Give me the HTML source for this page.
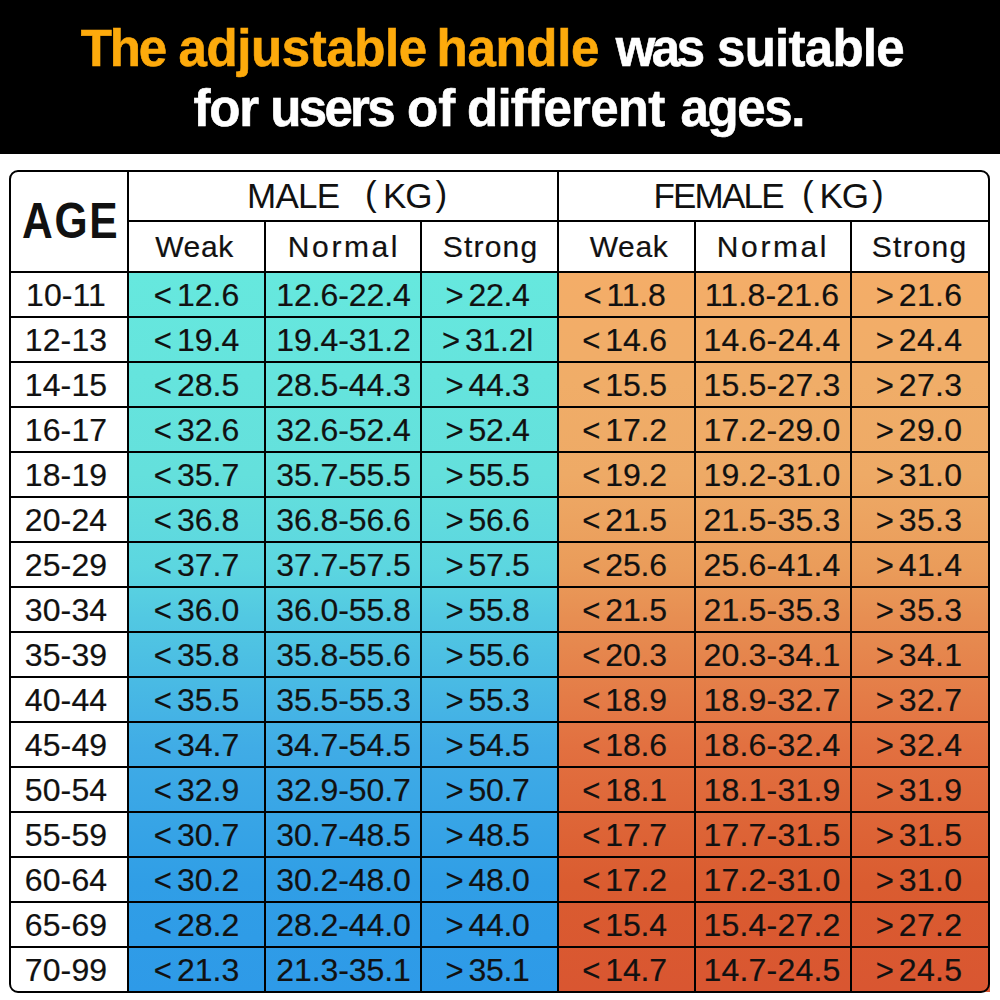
<!DOCTYPE html><html><head><meta charset="utf-8"><style>
*{margin:0;padding:0;box-sizing:border-box}
html,body{width:1000px;height:1000px;overflow:hidden;background:#fff}
body{position:relative;font-family:"Liberation Sans",sans-serif;color:#111}
.a{position:absolute}
.ln{position:absolute;background:#000}
.c{position:absolute;text-align:center;white-space:nowrap;-webkit-text-stroke:0.2px #111;font-size:32px;letter-spacing:0.1px;height:43px;line-height:43px}
.t{position:absolute;left:0;width:1000px;text-align:center;white-space:nowrap;font-weight:bold;color:#fff;font-size:51px;line-height:60px;height:60px}
.w{position:absolute;white-space:nowrap;font-weight:bold;color:#fff;-webkit-text-stroke:0.6px currentColor;font-size:51px;line-height:60px;height:60px}
.sp{display:inline-block;width:5px}
.lt{font-size:31px;letter-spacing:0;position:relative;top:0px}
</style></head><body>
<div class="a" style="left:0;top:0;width:1000px;height:154px;background:#000"></div>
<div class="w" style="left:80.7px;top:19px;letter-spacing:-2.15px;color:#fdaa0c">The</div>
<div class="w" style="left:178.6px;top:19px;letter-spacing:-0.4px;color:#fdaa0c">adjustable</div>
<div class="w" style="left:436.6px;top:19px;letter-spacing:-0.32px;color:#fdaa0c">handle</div>
<div class="w" style="left:615.8px;top:19px;letter-spacing:-3.6px;color:#fff">was</div>
<div class="w" style="left:717.0px;top:19px;letter-spacing:-0.729px;color:#fff">suitable</div>
<div class="w" style="left:193.4px;top:79px;letter-spacing:-1.1px">for</div>
<div class="w" style="left:270.2px;top:79px;letter-spacing:-2.65px">users</div>
<div class="w" style="left:407.0px;top:79px;letter-spacing:0.0px">of</div>
<div class="w" style="left:467.0px;top:79px;letter-spacing:-0.725px">different</div>
<div class="w" style="left:680.4px;top:79px;letter-spacing:-1.35px">ages.</div>
<div class="a" style="left:129px;top:273px;width:428px;height:719px;background:linear-gradient(to bottom,#66e8de 0%,#64e0dc 28%,#5cd6e0 41%,#52c8e2 48%,#40ace6 66%,#309ee6 85%,#2e9ae8 100%)"></div>
<div class="a" style="left:559px;top:273px;width:431px;height:719px;background:linear-gradient(to bottom,#f4ad68 0%,#f0ad68 15%,#eeaa66 28%,#ea9c5a 41%,#e78e52 48%,#e27040 66%,#da5c30 85%,#d95631 100%)"></div>
<div class="a" style="left:9px;top:170px;width:981px;height:823px;border:2px solid #000;border-radius:9px"></div>
<div class="ln" style="left:127px;top:170px;width:2px;height:823px"></div>
<div class="ln" style="left:557px;top:170px;width:2px;height:823px"></div>
<div class="ln" style="left:264px;top:220px;width:2px;height:773px"></div>
<div class="ln" style="left:420px;top:220px;width:2px;height:773px"></div>
<div class="ln" style="left:694px;top:220px;width:2px;height:773px"></div>
<div class="ln" style="left:850px;top:220px;width:2px;height:773px"></div>
<div class="ln" style="left:127px;top:220px;width:863px;height:2px"></div>
<div class="ln" style="left:9px;top:271px;width:981px;height:2px"></div>
<div class="ln" style="left:9px;top:316px;width:981px;height:2px"></div>
<div class="ln" style="left:9px;top:361px;width:981px;height:2px"></div>
<div class="ln" style="left:9px;top:406px;width:981px;height:2px"></div>
<div class="ln" style="left:9px;top:451px;width:981px;height:2px"></div>
<div class="ln" style="left:9px;top:496px;width:981px;height:2px"></div>
<div class="ln" style="left:9px;top:541px;width:981px;height:2px"></div>
<div class="ln" style="left:9px;top:586px;width:981px;height:2px"></div>
<div class="ln" style="left:9px;top:631px;width:981px;height:2px"></div>
<div class="ln" style="left:9px;top:676px;width:981px;height:2px"></div>
<div class="ln" style="left:9px;top:721px;width:981px;height:2px"></div>
<div class="ln" style="left:9px;top:766px;width:981px;height:2px"></div>
<div class="ln" style="left:9px;top:811px;width:981px;height:2px"></div>
<div class="ln" style="left:9px;top:856px;width:981px;height:2px"></div>
<div class="ln" style="left:9px;top:901px;width:981px;height:2px"></div>
<div class="ln" style="left:9px;top:946px;width:981px;height:2px"></div>
<div class="a" style="left:22px;top:196px;font-size:50px;font-weight:bold;line-height:1;letter-spacing:2px;transform:scaleX(0.852);transform-origin:0 0;color:#111">AGE</div>
<div class="a" style="left:247px;top:178px;font-size:35px;line-height:1;white-space:nowrap;letter-spacing:-0.7px">MALE</div>
<div class="a" style="left:365px;top:176px;font-size:35px;line-height:1;white-space:nowrap;letter-spacing:0px">(</div>
<div class="a" style="left:383px;top:178px;font-size:35px;line-height:1;white-space:nowrap;letter-spacing:-1px">KG</div>
<div class="a" style="left:435.5px;top:176px;font-size:35px;line-height:1;white-space:nowrap;letter-spacing:0px">)</div>
<div class="a" style="left:653.5px;top:178px;font-size:35px;line-height:1;white-space:nowrap;letter-spacing:-1.8px">FEMALE</div>
<div class="a" style="left:802px;top:176px;font-size:35px;line-height:1;white-space:nowrap;letter-spacing:0px">(</div>
<div class="a" style="left:819.5px;top:178px;font-size:35px;line-height:1;white-space:nowrap;letter-spacing:-1px">KG</div>
<div class="a" style="left:872px;top:176px;font-size:35px;line-height:1;white-space:nowrap;letter-spacing:0px">)</div>
<div class="c" style="left:127px;width:135px;top:225px;font-size:30px;letter-spacing:0.6px">Weak</div>
<div class="c" style="left:267px;width:154px;top:225px;font-size:30px;letter-spacing:2.6px">Normal</div>
<div class="c" style="left:423px;width:135px;top:225px;font-size:30px;letter-spacing:1.2px">Strong</div>
<div class="c" style="left:561.5px;width:135px;top:225px;font-size:30px;letter-spacing:0.6px">Weak</div>
<div class="c" style="left:696px;width:154px;top:225px;font-size:30px;letter-spacing:2.6px">Normal</div>
<div class="c" style="left:851.5px;width:136px;top:225px;font-size:30px;letter-spacing:1.2px">Strong</div>
<div class="c" style="left:8px;width:116px;top:273.5px">10-11</div>
<div class="c" style="left:129px;width:135px;top:273.5px;letter-spacing:0px"><span class="lt">&lt;</span><span class="sp"></span>12.6</div>
<div class="c" style="left:266.5px;width:154px;top:273.5px;letter-spacing:-0.1px">12.6-22.4</div>
<div class="c" style="left:420px;width:135px;top:273.5px;letter-spacing:-0.3px"><span class="lt">&gt;</span><span class="sp"></span>22.4</div>
<div class="c" style="left:557px;width:135px;top:273.5px;letter-spacing:-0.2px"><span class="lt">&lt;</span><span class="sp"></span>11.8</div>
<div class="c" style="left:695px;width:154px;top:273.5px;letter-spacing:0.2px">11.8-21.6</div>
<div class="c" style="left:851px;width:136px;top:273.5px;letter-spacing:0.3px"><span class="lt">&gt;</span><span class="sp"></span>21.6</div>
<div class="c" style="left:8px;width:116px;top:318.5px">12-13</div>
<div class="c" style="left:129px;width:135px;top:318.5px;letter-spacing:0px"><span class="lt">&lt;</span><span class="sp"></span>19.4</div>
<div class="c" style="left:266.5px;width:154px;top:318.5px;letter-spacing:-0.1px">19.4-31.2</div>
<div class="c" style="left:420px;width:135px;top:318.5px;letter-spacing:-0.3px"><span class="lt">&gt;</span><span class="sp"></span>31.2l</div>
<div class="c" style="left:557px;width:135px;top:318.5px;letter-spacing:-0.2px"><span class="lt">&lt;</span><span class="sp"></span>14.6</div>
<div class="c" style="left:695px;width:154px;top:318.5px;letter-spacing:0.2px">14.6-24.4</div>
<div class="c" style="left:851px;width:136px;top:318.5px;letter-spacing:0.3px"><span class="lt">&gt;</span><span class="sp"></span>24.4</div>
<div class="c" style="left:8px;width:116px;top:363.5px">14-15</div>
<div class="c" style="left:129px;width:135px;top:363.5px;letter-spacing:0px"><span class="lt">&lt;</span><span class="sp"></span>28.5</div>
<div class="c" style="left:266.5px;width:154px;top:363.5px;letter-spacing:-0.1px">28.5-44.3</div>
<div class="c" style="left:420px;width:135px;top:363.5px;letter-spacing:-0.3px"><span class="lt">&gt;</span><span class="sp"></span>44.3</div>
<div class="c" style="left:557px;width:135px;top:363.5px;letter-spacing:-0.2px"><span class="lt">&lt;</span><span class="sp"></span>15.5</div>
<div class="c" style="left:695px;width:154px;top:363.5px;letter-spacing:0.2px">15.5-27.3</div>
<div class="c" style="left:851px;width:136px;top:363.5px;letter-spacing:0.3px"><span class="lt">&gt;</span><span class="sp"></span>27.3</div>
<div class="c" style="left:8px;width:116px;top:408.5px">16-17</div>
<div class="c" style="left:129px;width:135px;top:408.5px;letter-spacing:0px"><span class="lt">&lt;</span><span class="sp"></span>32.6</div>
<div class="c" style="left:266.5px;width:154px;top:408.5px;letter-spacing:-0.1px">32.6-52.4</div>
<div class="c" style="left:420px;width:135px;top:408.5px;letter-spacing:-0.3px"><span class="lt">&gt;</span><span class="sp"></span>52.4</div>
<div class="c" style="left:557px;width:135px;top:408.5px;letter-spacing:-0.2px"><span class="lt">&lt;</span><span class="sp"></span>17.2</div>
<div class="c" style="left:695px;width:154px;top:408.5px;letter-spacing:0.2px">17.2-29.0</div>
<div class="c" style="left:851px;width:136px;top:408.5px;letter-spacing:0.3px"><span class="lt">&gt;</span><span class="sp"></span>29.0</div>
<div class="c" style="left:8px;width:116px;top:453.5px">18-19</div>
<div class="c" style="left:129px;width:135px;top:453.5px;letter-spacing:0px"><span class="lt">&lt;</span><span class="sp"></span>35.7</div>
<div class="c" style="left:266.5px;width:154px;top:453.5px;letter-spacing:-0.1px">35.7-55.5</div>
<div class="c" style="left:420px;width:135px;top:453.5px;letter-spacing:-0.3px"><span class="lt">&gt;</span><span class="sp"></span>55.5</div>
<div class="c" style="left:557px;width:135px;top:453.5px;letter-spacing:-0.2px"><span class="lt">&lt;</span><span class="sp"></span>19.2</div>
<div class="c" style="left:695px;width:154px;top:453.5px;letter-spacing:0.2px">19.2-31.0</div>
<div class="c" style="left:851px;width:136px;top:453.5px;letter-spacing:0.3px"><span class="lt">&gt;</span><span class="sp"></span>31.0</div>
<div class="c" style="left:8px;width:116px;top:498.5px">20-24</div>
<div class="c" style="left:129px;width:135px;top:498.5px;letter-spacing:0px"><span class="lt">&lt;</span><span class="sp"></span>36.8</div>
<div class="c" style="left:266.5px;width:154px;top:498.5px;letter-spacing:-0.1px">36.8-56.6</div>
<div class="c" style="left:420px;width:135px;top:498.5px;letter-spacing:-0.3px"><span class="lt">&gt;</span><span class="sp"></span>56.6</div>
<div class="c" style="left:557px;width:135px;top:498.5px;letter-spacing:-0.2px"><span class="lt">&lt;</span><span class="sp"></span>21.5</div>
<div class="c" style="left:695px;width:154px;top:498.5px;letter-spacing:0.2px">21.5-35.3</div>
<div class="c" style="left:851px;width:136px;top:498.5px;letter-spacing:0.3px"><span class="lt">&gt;</span><span class="sp"></span>35.3</div>
<div class="c" style="left:8px;width:116px;top:543.5px">25-29</div>
<div class="c" style="left:129px;width:135px;top:543.5px;letter-spacing:0px"><span class="lt">&lt;</span><span class="sp"></span>37.7</div>
<div class="c" style="left:266.5px;width:154px;top:543.5px;letter-spacing:-0.1px">37.7-57.5</div>
<div class="c" style="left:420px;width:135px;top:543.5px;letter-spacing:-0.3px"><span class="lt">&gt;</span><span class="sp"></span>57.5</div>
<div class="c" style="left:557px;width:135px;top:543.5px;letter-spacing:-0.2px"><span class="lt">&lt;</span><span class="sp"></span>25.6</div>
<div class="c" style="left:695px;width:154px;top:543.5px;letter-spacing:0.2px">25.6-41.4</div>
<div class="c" style="left:851px;width:136px;top:543.5px;letter-spacing:0.3px"><span class="lt">&gt;</span><span class="sp"></span>41.4</div>
<div class="c" style="left:8px;width:116px;top:588.5px">30-34</div>
<div class="c" style="left:129px;width:135px;top:588.5px;letter-spacing:0px"><span class="lt">&lt;</span><span class="sp"></span>36.0</div>
<div class="c" style="left:266.5px;width:154px;top:588.5px;letter-spacing:-0.1px">36.0-55.8</div>
<div class="c" style="left:420px;width:135px;top:588.5px;letter-spacing:-0.3px"><span class="lt">&gt;</span><span class="sp"></span>55.8</div>
<div class="c" style="left:557px;width:135px;top:588.5px;letter-spacing:-0.2px"><span class="lt">&lt;</span><span class="sp"></span>21.5</div>
<div class="c" style="left:695px;width:154px;top:588.5px;letter-spacing:0.2px">21.5-35.3</div>
<div class="c" style="left:851px;width:136px;top:588.5px;letter-spacing:0.3px"><span class="lt">&gt;</span><span class="sp"></span>35.3</div>
<div class="c" style="left:8px;width:116px;top:633.5px">35-39</div>
<div class="c" style="left:129px;width:135px;top:633.5px;letter-spacing:0px"><span class="lt">&lt;</span><span class="sp"></span>35.8</div>
<div class="c" style="left:266.5px;width:154px;top:633.5px;letter-spacing:-0.1px">35.8-55.6</div>
<div class="c" style="left:420px;width:135px;top:633.5px;letter-spacing:-0.3px"><span class="lt">&gt;</span><span class="sp"></span>55.6</div>
<div class="c" style="left:557px;width:135px;top:633.5px;letter-spacing:-0.2px"><span class="lt">&lt;</span><span class="sp"></span>20.3</div>
<div class="c" style="left:695px;width:154px;top:633.5px;letter-spacing:0.2px">20.3-34.1</div>
<div class="c" style="left:851px;width:136px;top:633.5px;letter-spacing:0.3px"><span class="lt">&gt;</span><span class="sp"></span>34.1</div>
<div class="c" style="left:8px;width:116px;top:678.5px">40-44</div>
<div class="c" style="left:129px;width:135px;top:678.5px;letter-spacing:0px"><span class="lt">&lt;</span><span class="sp"></span>35.5</div>
<div class="c" style="left:266.5px;width:154px;top:678.5px;letter-spacing:-0.1px">35.5-55.3</div>
<div class="c" style="left:420px;width:135px;top:678.5px;letter-spacing:-0.3px"><span class="lt">&gt;</span><span class="sp"></span>55.3</div>
<div class="c" style="left:557px;width:135px;top:678.5px;letter-spacing:-0.2px"><span class="lt">&lt;</span><span class="sp"></span>18.9</div>
<div class="c" style="left:695px;width:154px;top:678.5px;letter-spacing:0.2px">18.9-32.7</div>
<div class="c" style="left:851px;width:136px;top:678.5px;letter-spacing:0.3px"><span class="lt">&gt;</span><span class="sp"></span>32.7</div>
<div class="c" style="left:8px;width:116px;top:723.5px">45-49</div>
<div class="c" style="left:129px;width:135px;top:723.5px;letter-spacing:0px"><span class="lt">&lt;</span><span class="sp"></span>34.7</div>
<div class="c" style="left:266.5px;width:154px;top:723.5px;letter-spacing:-0.1px">34.7-54.5</div>
<div class="c" style="left:420px;width:135px;top:723.5px;letter-spacing:-0.3px"><span class="lt">&gt;</span><span class="sp"></span>54.5</div>
<div class="c" style="left:557px;width:135px;top:723.5px;letter-spacing:-0.2px"><span class="lt">&lt;</span><span class="sp"></span>18.6</div>
<div class="c" style="left:695px;width:154px;top:723.5px;letter-spacing:0.2px">18.6-32.4</div>
<div class="c" style="left:851px;width:136px;top:723.5px;letter-spacing:0.3px"><span class="lt">&gt;</span><span class="sp"></span>32.4</div>
<div class="c" style="left:8px;width:116px;top:768.5px">50-54</div>
<div class="c" style="left:129px;width:135px;top:768.5px;letter-spacing:0px"><span class="lt">&lt;</span><span class="sp"></span>32.9</div>
<div class="c" style="left:266.5px;width:154px;top:768.5px;letter-spacing:-0.1px">32.9-50.7</div>
<div class="c" style="left:420px;width:135px;top:768.5px;letter-spacing:-0.3px"><span class="lt">&gt;</span><span class="sp"></span>50.7</div>
<div class="c" style="left:557px;width:135px;top:768.5px;letter-spacing:-0.2px"><span class="lt">&lt;</span><span class="sp"></span>18.1</div>
<div class="c" style="left:695px;width:154px;top:768.5px;letter-spacing:0.2px">18.1-31.9</div>
<div class="c" style="left:851px;width:136px;top:768.5px;letter-spacing:0.3px"><span class="lt">&gt;</span><span class="sp"></span>31.9</div>
<div class="c" style="left:8px;width:116px;top:813.5px">55-59</div>
<div class="c" style="left:129px;width:135px;top:813.5px;letter-spacing:0px"><span class="lt">&lt;</span><span class="sp"></span>30.7</div>
<div class="c" style="left:266.5px;width:154px;top:813.5px;letter-spacing:-0.1px">30.7-48.5</div>
<div class="c" style="left:420px;width:135px;top:813.5px;letter-spacing:-0.3px"><span class="lt">&gt;</span><span class="sp"></span>48.5</div>
<div class="c" style="left:557px;width:135px;top:813.5px;letter-spacing:-0.2px"><span class="lt">&lt;</span><span class="sp"></span>17.7</div>
<div class="c" style="left:695px;width:154px;top:813.5px;letter-spacing:0.2px">17.7-31.5</div>
<div class="c" style="left:851px;width:136px;top:813.5px;letter-spacing:0.3px"><span class="lt">&gt;</span><span class="sp"></span>31.5</div>
<div class="c" style="left:8px;width:116px;top:858.5px">60-64</div>
<div class="c" style="left:129px;width:135px;top:858.5px;letter-spacing:0px"><span class="lt">&lt;</span><span class="sp"></span>30.2</div>
<div class="c" style="left:266.5px;width:154px;top:858.5px;letter-spacing:-0.1px">30.2-48.0</div>
<div class="c" style="left:420px;width:135px;top:858.5px;letter-spacing:-0.3px"><span class="lt">&gt;</span><span class="sp"></span>48.0</div>
<div class="c" style="left:557px;width:135px;top:858.5px;letter-spacing:-0.2px"><span class="lt">&lt;</span><span class="sp"></span>17.2</div>
<div class="c" style="left:695px;width:154px;top:858.5px;letter-spacing:0.2px">17.2-31.0</div>
<div class="c" style="left:851px;width:136px;top:858.5px;letter-spacing:0.3px"><span class="lt">&gt;</span><span class="sp"></span>31.0</div>
<div class="c" style="left:8px;width:116px;top:903.5px">65-69</div>
<div class="c" style="left:129px;width:135px;top:903.5px;letter-spacing:0px"><span class="lt">&lt;</span><span class="sp"></span>28.2</div>
<div class="c" style="left:266.5px;width:154px;top:903.5px;letter-spacing:-0.1px">28.2-44.0</div>
<div class="c" style="left:420px;width:135px;top:903.5px;letter-spacing:-0.3px"><span class="lt">&gt;</span><span class="sp"></span>44.0</div>
<div class="c" style="left:557px;width:135px;top:903.5px;letter-spacing:-0.2px"><span class="lt">&lt;</span><span class="sp"></span>15.4</div>
<div class="c" style="left:695px;width:154px;top:903.5px;letter-spacing:0.2px">15.4-27.2</div>
<div class="c" style="left:851px;width:136px;top:903.5px;letter-spacing:0.3px"><span class="lt">&gt;</span><span class="sp"></span>27.2</div>
<div class="c" style="left:8px;width:116px;top:948.5px">70-99</div>
<div class="c" style="left:129px;width:135px;top:948.5px;letter-spacing:0px"><span class="lt">&lt;</span><span class="sp"></span>21.3</div>
<div class="c" style="left:266.5px;width:154px;top:948.5px;letter-spacing:-0.1px">21.3-35.1</div>
<div class="c" style="left:420px;width:135px;top:948.5px;letter-spacing:-0.3px"><span class="lt">&gt;</span><span class="sp"></span>35.1</div>
<div class="c" style="left:557px;width:135px;top:948.5px;letter-spacing:-0.2px"><span class="lt">&lt;</span><span class="sp"></span>14.7</div>
<div class="c" style="left:695px;width:154px;top:948.5px;letter-spacing:0.2px">14.7-24.5</div>
<div class="c" style="left:851px;width:136px;top:948.5px;letter-spacing:0.3px"><span class="lt">&gt;</span><span class="sp"></span>24.5</div>
</body></html>
